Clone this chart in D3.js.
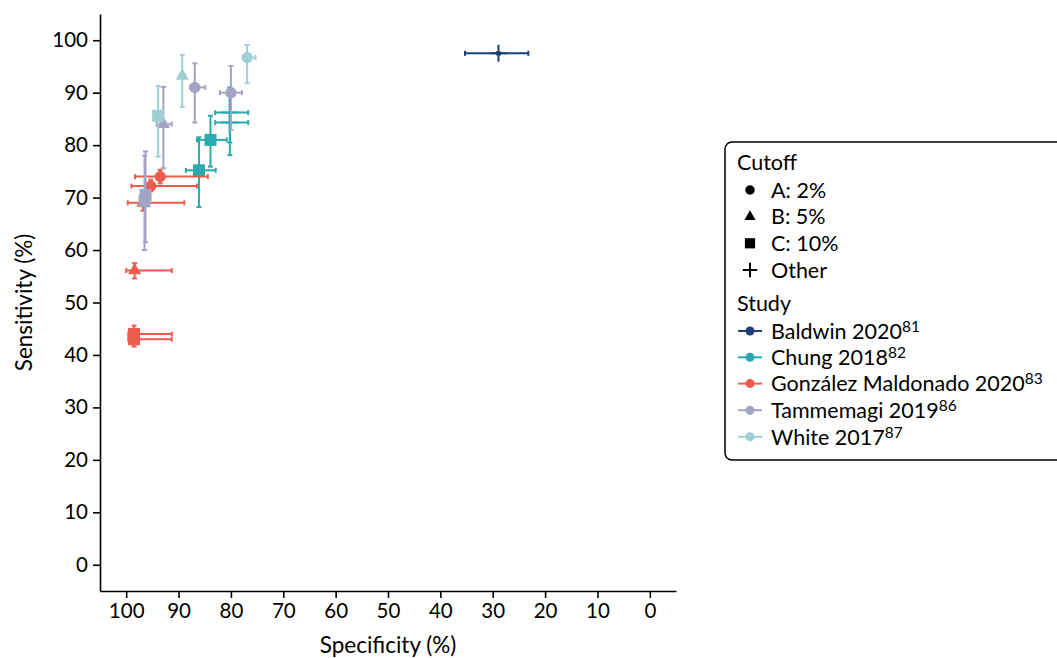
<!DOCTYPE html>
<html><head><meta charset="utf-8">
<script src="https://cdn.jsdelivr.net/npm/d3@7"></script>
<style>body{margin:0;background:#fff}svg{display:block;font-family:Lato,"DejaVu Sans",sans-serif}</style>
</head><body><svg id="c" width="1057" height="658"></svg>
<script>
// ---- data ----
const studies = ["Baldwin 2020","Chung 2018","González Maldonado 2020","Tammemagi 2019","White 2017"];
const studyRefs = ["81","82","83","86","87"];
const studyColors = ["#1e3f7a","#2aaaaf","#ee5b4c","#a3a3c6","#9dcfd4"];
const cutoffs = ["A: 2%","B: 5%","C: 10%","Other"];
const xTicks = [100,90,80,70,60,50,40,30,20,10,0];
const yTicks = [0,10,20,30,40,50,60,70,80,90,100];

const ptStudy  = [0, 1,1,1,1, 2,2,2,2,2,2, 3,3,3,3,3, 4,4,4];
const ptCutoff = [3, 2,2,3,3, 0,0,1,1,2,2, 0,0,1,2,2, 0,1,2];
const ptSpec   = [28.9, 83.9,86.1,80.2,80.2, 93.5,95.3,96.8,98.4,98.5,98.5, 86.9,80.0,92.9,96.3,96.5, 76.9,89.3,93.9];
const ptSpecLo = [23.2, 80.8,82.9,76.7,76.7, 84.4,86.5,88.9,91.3,91.3,91.3, 84.9,77.9,91.3,95.6,95.8, 75.3,88.8,93.4];
const ptSpecHi = [35.3, 86.5,88.6,83.0,83.0, 98.3,99.0,99.7,100.0,99.6,99.6, 87.8,82.1,94.2,97.0,97.2, 77.6,89.8,94.4];
const ptSens   = [97.5, 81.0,75.2,86.2,84.3, 74.0,72.2,69.0,56.1,44.0,43.0, 91.0,90.0,84.0,70.5,69.3, 96.7,93.2,85.6];
const ptSensLo = [97.3, 75.9,68.2,80.5,78.1, 72.7,71.2,67.5,54.6,42.5,41.6, 84.3,82.9,75.6,61.5,60.0, 91.8,87.3,77.8];
const ptSensHi = [97.7, 85.6,81.5,91.0,89.5, 75.3,73.4,70.4,57.5,45.6,44.4, 95.6,95.1,91.1,78.8,78.0, 99.1,97.2,91.3];

// ---- layout ----
const svg = d3.select("#c");
const L = 100, R = 676, T = 14, B = 591;
const x = d3.scaleLinear().domain([105,-5]).range([L,R]);
const y = d3.scaleLinear().domain([-5,105]).range([B,T]);
const color = d3.scaleOrdinal().domain(d3.range(studies.length)).range(studyColors);

const pts = ptStudy.map((s,i)=>({s, c:ptCutoff[i], sp:ptSpec[i], spl:ptSpecLo[i], sph:ptSpecHi[i], se:ptSens[i], sel:ptSensLo[i], seh:ptSensHi[i]}));

// axes
const xAxis = svg.append("g").attr("transform",`translate(0,${B})`)
  .call(d3.axisBottom(x).tickValues(xTicks).tickSize(7).tickPadding(5).tickSizeOuter(0));
const yAxis = svg.append("g").attr("transform",`translate(${L},0)`)
  .call(d3.axisLeft(y).tickValues(yTicks).tickSize(7).tickPadding(5).tickSizeOuter(0));
[xAxis,yAxis].forEach(a=>{
  a.select(".domain").attr("stroke","#000").attr("stroke-width",1.6);
  a.selectAll(".tick line").attr("stroke","#000").attr("stroke-width",1.6);
  a.selectAll(".tick text").attr("fill","#000").style("font-size","20.5px").style("font-family","Lato");
});
svg.append("text").attr("x",(L+R)/2).attr("y",653).attr("text-anchor","middle")
  .style("font-size","22.5px").text("Specificity (%)");
svg.append("text").attr("transform",`translate(32,${(T+B)/2}) rotate(-90)`).attr("text-anchor","middle")
  .style("font-size","22.5px").text("Sensitivity (%)");

const cap = 2.5, lw = 2;
function drawShape(g, c, col, scale){
  scale = scale||1;
  if(c===0) g.append("circle").attr("r",5.6*scale).attr("fill",col);
  else if(c===1) g.append("path").attr("d",d3.symbol(d3.symbolTriangle, 75*scale*scale)()).attr("fill",col);
  else if(c===2) g.append("rect").attr("x",-6*scale).attr("y",-6*scale).attr("width",12*scale).attr("height",12*scale).attr("fill",col);
  else { const h=8.5*scale; g.append("path").attr("d",`M${-h},0H${h}M0,${-h}V${h}`).attr("stroke",col).attr("stroke-width",2).attr("fill","none"); }
}

const plot = svg.append("g");
studies.forEach((st,si)=>{
  const sp = pts.filter(d=>d.s===si);
  const sg = plot.append("g");
  sp.forEach(d=>{
    const g = sg.append("g").attr("stroke",color(d.s)).attr("stroke-width",lw).attr("fill","none");
    g.append("line").attr("x1",x(d.spl)).attr("x2",x(d.sph)).attr("y1",y(d.se)).attr("y2",y(d.se));
    [d.spl,d.sph].forEach(v=>g.append("line").attr("x1",x(v)).attr("x2",x(v)).attr("y1",y(d.se)-cap).attr("y2",y(d.se)+cap));
  });
  sp.forEach(d=>{
    const g = sg.append("g").attr("stroke",color(d.s)).attr("stroke-width",lw).attr("fill","none");
    g.append("line").attr("x1",x(d.sp)).attr("x2",x(d.sp)).attr("y1",y(d.sel)).attr("y2",y(d.seh));
    [d.sel,d.seh].forEach(v=>g.append("line").attr("y1",y(v)).attr("y2",y(v)).attr("x1",x(d.sp)-cap).attr("x2",x(d.sp)+cap));
  });
  sp.forEach(d=>{
    const g = sg.append("g").attr("transform",`translate(${x(d.sp)},${y(d.se)})`);
    drawShape(g,d.c,color(d.s));
  });
});

// ---- legend ----
const lg = svg.append("g");
lg.append("rect").attr("x",725).attr("y",142).attr("width",360).attr("height",318).attr("rx",7)
  .attr("fill","#fff").attr("stroke","#000").attr("stroke-width",1.5);
const fs = "21.5px";
lg.append("text").attr("x",737).attr("y",170).style("font-size",fs).text("Cutoff");
const cutY = [190,216.7,243.3,270];
cutoffs.forEach((c,i)=>{
  const g = lg.append("g").attr("transform",`translate(750,${cutY[i]})`);
  drawShape(g,i,"#000",0.85);
  lg.append("text").attr("x",771).attr("y",cutY[i]).attr("dy","0.36em").style("font-size",fs).text(c);
});
lg.append("text").attr("x",737).attr("y",311).style("font-size",fs).text("Study");
const stY = [331,357.3,383.6,410.2,436.8];
studies.forEach((s,i)=>{
  lg.append("line").attr("x1",738).attr("x2",762).attr("y1",stY[i]).attr("y2",stY[i]).attr("stroke",studyColors[i]).attr("stroke-width",2);
  lg.append("circle").attr("cx",750).attr("cy",stY[i]).attr("r",4.5).attr("fill",studyColors[i]);
  const t = lg.append("text").attr("x",771).attr("y",stY[i]).attr("dy","0.36em").style("font-size",fs);
  t.append("tspan").text(s);
  t.append("tspan").attr("dy","-0.45em").style("font-size","15.5px").text(studyRefs[i]);
});
</script></body></html>
